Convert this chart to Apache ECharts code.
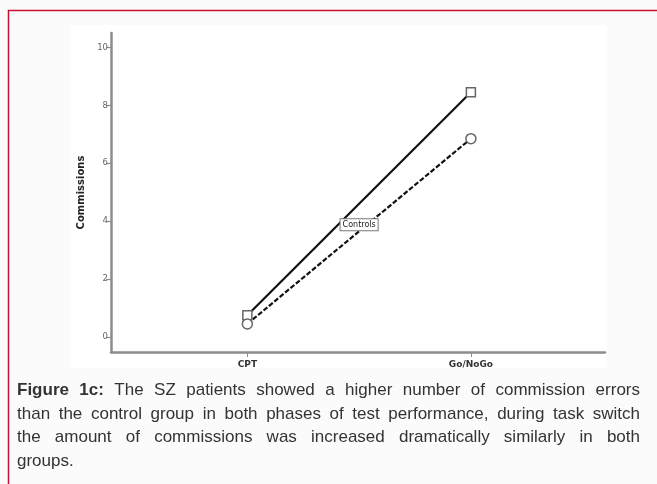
<!DOCTYPE html>
<html><head><meta charset="utf-8">
<script src="https://cdn.jsdelivr.net/npm/echarts@6/dist/echarts.min.js"></script>
<style>
html,body{margin:0;padding:0;background:#fcfbfb;}
#c{width:657px;height:484px;}
</style></head>
<body><div id="c"></div>
<script>
var categories = ['CPT', 'Go/NoGo'];
var szValues = [0.75, 8.45];
var controlValues = [0.45, 6.85];
var yTicks = [0, 2, 4, 6, 8, 10];
var yTitle = 'Commissions';
var annotation = 'Controls';
var captionLines = [
  'Figure 1c: The SZ patients showed a higher number of commission errors',
  'than the control group in both phases of test performance, during task switch',
  'the amount of commissions was increased dramatically similarly in both',
  'groups.'
];

var chart = echarts.init(document.getElementById('c'), null, {renderer: 'canvas'});

function pts(vals){ return vals.map(function(v,i){ return [i, v]; }); }

var fs = 17;
var capFont = fs + 'px "Liberation Sans", Arial, sans-serif';
var capFontB = 'bold ' + fs + 'px "Liberation Sans", Arial, sans-serif';
var cv = document.createElement('canvas').getContext('2d');
function w(t, f){ cv.font = f; return cv.measureText(t).width; }

var capLeft = 17, capRight = 640;
var lineY = [390, 414, 437.5, 461];
var graphics = [
  {type:'rect', shape:{x:8.5, y:10.5, width:700, height:480}, style:{fill:'#fcfbfb', stroke:'#c8102e', lineWidth:1.5}, z:-10},
  {type:'rect', shape:{x:70, y:25, width:537, height:343}, style:{fill:'#ffffff'}, z:-9}
];
captionLines.forEach(function(line, li){
  var words = line.split(/\s+/);
  var isBold = words.map(function(t,i){ return li === 0 && i < 2; });
  var widths = words.map(function(t,i){ return w(t, isBold[i] ? capFontB : capFont); });
  var total = widths.reduce(function(a,b){return a+b;},0);
  var justify = li < captionLines.length - 1;
  var gap = justify ? (capRight - capLeft - total) / (words.length - 1) : w(' ', capFont);
  var x = capLeft;
  words.forEach(function(t,i){
    graphics.push({type:'text', x:x, y:lineY[li], style:{text:t, font:isBold[i]?capFontB:capFont, fill:'#333333', verticalAlign:'middle'}});
    x += widths[i] + gap;
  });
});

var option = {
  animation:false,
  backgroundColor:'transparent',
  grid:{left:111, right:52, top:33, bottom:132, containLabel:false},
  xAxis:{
    type:'value', min:-0.61, max:1.6,
    splitLine:{show:false},
    axisLine:{show:true, onZero:false, lineStyle:{color:'#8c8c8c', width:2.5}},
    axisTick:{show:true, customValues:[0,1], length:5, inside:false, lineStyle:{color:'#8c8c8c', width:1}},
    axisLabel:{customValues:[0,1], formatter:function(v){ return categories[Math.round(v)]; }, color:'#333', fontSize:9, fontWeight:'bold', fontFamily:'"DejaVu Sans", sans-serif', margin:8}
  },
  yAxis:{
    type:'value', min:-0.52, max:10.5,
    name:yTitle, nameLocation:'middle', nameGap:25, nameRotate:90,
    nameTextStyle:{color:'#222', fontSize:10, fontWeight:'bold', fontFamily:'"DejaVu Sans", sans-serif'},
    splitLine:{show:false},
    axisLine:{show:true, onZero:false, lineStyle:{color:'#8c8c8c', width:2.5}},
    axisTick:{show:true, customValues:yTicks, length:5, lineStyle:{color:'#8c8c8c', width:1.2}},
    axisLabel:{customValues:yTicks, color:'#666', fontSize:8.5, fontFamily:'"DejaVu Sans", sans-serif', margin:3}
  },
  series:[
    {type:'line', name:'SZ', data:pts(szValues), symbol:'rect', symbolSize:9,
     lineStyle:{color:'#111', width:2.2}, itemStyle:{color:'#fff', borderColor:'#666', borderWidth:1.5}, z:3},
    {type:'line', name:'Controls', data:pts(controlValues), symbol:'circle', symbolSize:10,
     lineStyle:{color:'#111', width:2.2, type:[5,2]}, itemStyle:{color:'#fff', borderColor:'#666', borderWidth:1.5}, z:3}
  ],
  graphic:graphics
};
chart.setOption(option);

var p = chart.convertToPixel({gridIndex:0}, [0.5, (szValues[0]+szValues[1]+controlValues[0]+controlValues[1])/4 - 0.25]);
chart.setOption({graphic: graphics.concat([{
  type:'text', x:p[0], y:p[1], z:10,
  style:{text:annotation, font:'8px "DejaVu Sans", sans-serif', fill:'#222', align:'center', verticalAlign:'middle',
    backgroundColor:'#fff', borderColor:'#777', borderWidth:1, padding:[2,2,1,2]}
}])});
</script></body></html>
